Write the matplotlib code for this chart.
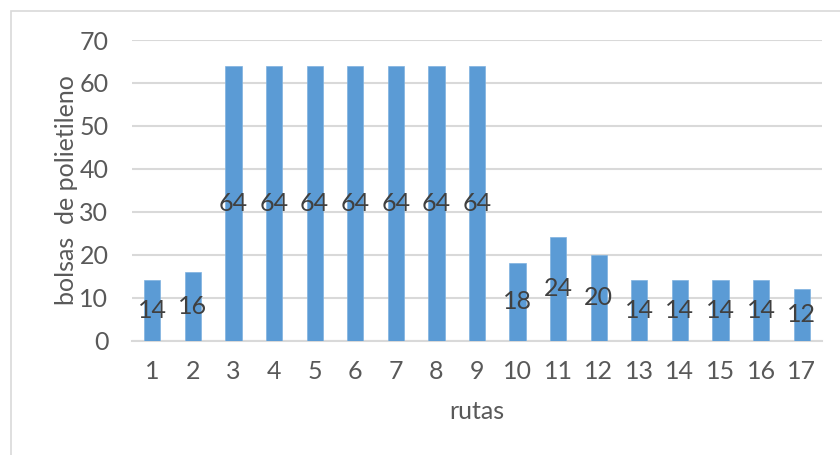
import matplotlib
matplotlib.use("Agg")
import matplotlib.pyplot as plt
from matplotlib.patches import Rectangle

# bolsas de polietileno por ruta
rutas = [str(i) for i in range(1, 18)]
bolsas = [14, 16, 64, 64, 64, 64, 64, 64, 64, 18, 24, 20, 14, 14, 14, 14, 12]
y_ticks = [0, 10, 20, 30, 40, 50, 60, 70]

BAR = "#5B9BD5"
GRID = "#D9D9D9"
TXT = "#595959"
LBL = "#404040"
FS = 18

plt.rcParams["font.family"] = ["Lato", "DejaVu Sans"]

W, H = 840, 455
fig = plt.figure(figsize=(W / 100, H / 100), dpi=100)
fig.patch.set_facecolor("white")

# chart frame (runs off the right and bottom edge)
fig.patches.append(Rectangle((11 / W, -0.05), 1.2, 1 - 11 / H + 0.05,
                             transform=fig.transFigure, fill=False,
                             edgecolor=GRID, lw=1.2))

ax = fig.add_axes([132 / W, (H - 340.5) / H, (822 - 132) / W, 300.5 / H])
x = list(range(len(rutas)))
bars = ax.bar(x, bolsas, width=0.4, color=BAR, edgecolor="#7FB2E0", lw=0.5, zorder=3)

for xi, v in zip(x, bolsas):
    ax.text(xi, v / 2, str(v), ha="center", va="center", fontsize=FS,
            color=LBL, zorder=4)

ax.set_xlim(-0.5, len(rutas) - 0.5)
ax.set_ylim(0, 70)
ax.set_yticks(y_ticks)
ax.set_xticks(x)
ax.set_xticklabels(rutas)
ax.grid(axis="y", color=GRID, lw=1.5, zorder=0)
ax.tick_params(length=0, labelsize=FS, labelcolor=TXT)
ax.tick_params(axis="x", pad=14)
ax.tick_params(axis="y", pad=17)
for s in ["top", "right", "left"]:
    ax.spines[s].set_visible(False)
ax.spines["bottom"].set_color(GRID)
ax.spines["bottom"].set_linewidth(1.5)

ax.set_xlabel("rutas", fontsize=FS, color=TXT, labelpad=12)
ax.set_ylabel("bolsas  de polietileno", fontsize=FS, color=TXT, labelpad=1)

fig.savefig("out.png", dpi=100, facecolor="white")
